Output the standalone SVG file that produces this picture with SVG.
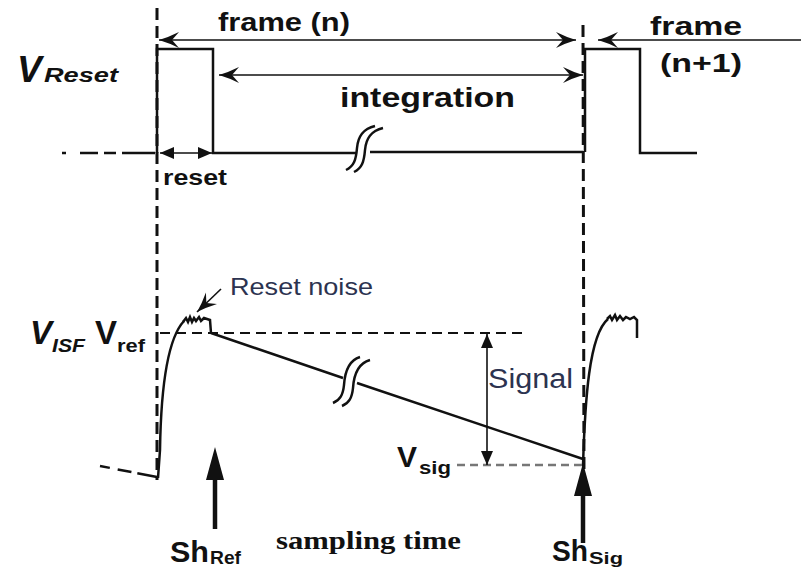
<svg xmlns="http://www.w3.org/2000/svg" width="801" height="569" viewBox="0 0 801 569">
<style>
.w{fill:none;stroke:#111;stroke-width:2.5;stroke-linejoin:miter}
.d{fill:none;stroke:#111;stroke-width:3;stroke-dasharray:12 6}
.a{fill:none;stroke:#111;stroke-width:1.6}
.b{font-family:"Liberation Sans",Arial,sans-serif;font-weight:bold;fill:#111}
.bi{font-family:"Liberation Sans",Arial,sans-serif;font-weight:bold;font-style:italic;fill:#111}
.n{font-family:"Liberation Sans",Arial,sans-serif;fill:#2c3350}
.s{font-family:"Liberation Serif","Times New Roman",serif;font-weight:bold;fill:#111}
</style>
<defs>
<marker id="barb" markerUnits="userSpaceOnUse" viewBox="-22 -9 24 18" refX="0" refY="0" markerWidth="24" markerHeight="18" orient="auto-start-reverse">
<path d="M0,0 Q-10,-3 -20,-8 L-13,0 L-20,8 Q-10,3 0,0 Z" fill="#111"/>
</marker>
<marker id="tri" markerUnits="userSpaceOnUse" viewBox="-16 -8 18 16" refX="0" refY="0" markerWidth="18" markerHeight="16" orient="auto-start-reverse">
<path d="M0,0 L-14,-6 L-14,6 Z" fill="#111"/>
</marker>
</defs>
<rect width="801" height="569" fill="#fff"/>

<g id="guides">
<path class="d" d="M157,8 V480"/>
<path class="d" d="M583,25 L584,475"/>
</g>

<g id="reset-waveform">
<path class="w" d="M62,153 H155" stroke-dasharray="4 14 18 6 12 6 40 0"/>
<path class="w" d="M157,153 V49 H213 V153 H357 M370,152 H583"/>
<path class="w" d="M585,152 V49 H640 V153 H697"/>
<path class="w" stroke-width="2" d="M346,170 C354,166 356,160 357,148 C358,136 363,129 375,126 M354,172 C362,168 364,162 365,150 C366,138 371,131 383,128"/>
</g>

<g id="pixel-waveform">
<path class="w" d="M100,466 L157,477" stroke-dasharray="10 8 14 6 40 0"/>
<path class="w" d="M158,478 L160,450 C161,385 168,338 184,321"/>
<path class="w" stroke-width="2" d="M183,322 L186,318 L188,322 L190,317 L192,322 L194,318 L196,321 L199,317 L201,321 L204,318 L207,319 L210,320 L211,333"/>
<path class="w" d="M211,333 L343,378 M357,383 L583,459"/>
<path class="w" stroke-width="2" d="M333,403 C340,400 343,395 344,385 C345,370 350,360 360,357 M342,406 C349,403 352,398 353,388 C354,373 359,363 370,360"/>
<path class="w" d="M583,466 C585,400 589,335 608,319"/>
<path class="w" stroke-width="2" d="M607,319 L610,316 L612,320 L615,315 L617,320 L620,316 L623,320 L626,317 L630,319 L634,317 L637,320 L637,338"/>
<path fill="none" stroke="#111" stroke-width="2" stroke-dasharray="10 6" d="M160,333 H528"/>
<path fill="none" stroke="#777" stroke-width="2.5" stroke-dasharray="8 5" d="M457,465 H583"/>
</g>

<g id="connectors">
<path class="a" d="M159,40 H576" marker-start="url(#barb)" marker-end="url(#barb)"/>
<path class="a" d="M598,40 H801" marker-start="url(#barb)"/>
<path class="a" d="M219,75 H583" marker-start="url(#barb)" marker-end="url(#barb)"/>
<path class="a" stroke-width="2" d="M160,153 H212" marker-start="url(#tri)" marker-end="url(#tri)"/>
<path class="a" d="M487,334 V465" marker-start="url(#tri)" marker-end="url(#tri)"/>
<path class="a" stroke-width="2" d="M221,289 L197,312" marker-end="url(#barb)"/>
<path fill="none" stroke="#111" stroke-width="4.5" d="M215,477 V529"/>
<polygon fill="#111" points="215,447 206,480 224,480"/>
<path fill="none" stroke="#111" stroke-width="4.5" d="M583,494 V543"/>
<polygon fill="#111" points="583,463 574,496 592,496"/>
</g>

<g id="labels">
<text class="b" x="218" y="31" font-size="25" textLength="132" lengthAdjust="spacingAndGlyphs">frame (n)</text>
<text class="b" x="650" y="35" font-size="26" textLength="92" lengthAdjust="spacingAndGlyphs">frame</text>
<text class="b" x="660" y="72" font-size="26" textLength="82" lengthAdjust="spacingAndGlyphs">(n+1)</text>
<text class="b" x="340" y="107" font-size="27" textLength="175" lengthAdjust="spacingAndGlyphs">integration</text>
<text class="bi" x="17" y="82" font-size="37">V</text>
<text class="bi" x="44" y="82" font-size="21" textLength="74" lengthAdjust="spacingAndGlyphs">Reset</text>
<text class="b" x="163" y="185" font-size="22" textLength="64" lengthAdjust="spacingAndGlyphs">reset</text>
<text class="n" x="230" y="295" font-size="24" textLength="143" lengthAdjust="spacingAndGlyphs">Reset noise</text>
<text class="bi" x="30" y="344" font-size="33">V</text>
<text class="bi" x="52" y="352" font-size="18" textLength="33" lengthAdjust="spacingAndGlyphs">ISF</text>
<text class="b" x="95" y="344" font-size="33">V</text>
<text class="b" x="117" y="352" font-size="19" textLength="28" lengthAdjust="spacingAndGlyphs">ref</text>
<text class="n" x="488" y="388" font-size="27" textLength="85" lengthAdjust="spacingAndGlyphs">Signal</text>
<text class="b" x="397" y="467" font-size="30">V</text>
<text class="b" x="419" y="474" font-size="18" textLength="32" lengthAdjust="spacingAndGlyphs">sig</text>
<text class="s" x="276" y="549" font-size="26" textLength="185" lengthAdjust="spacingAndGlyphs">sampling time</text>
<text class="b" x="170" y="562" font-size="29" textLength="39" lengthAdjust="spacingAndGlyphs">Sh</text>
<text class="b" x="210" y="564" font-size="18" textLength="31" lengthAdjust="spacingAndGlyphs">Ref</text>
<text class="b" x="552" y="561" font-size="29" textLength="36" lengthAdjust="spacingAndGlyphs">Sh</text>
<text class="b" x="589" y="564" font-size="17" textLength="34" lengthAdjust="spacingAndGlyphs">Sig</text>
</g>
</svg>
